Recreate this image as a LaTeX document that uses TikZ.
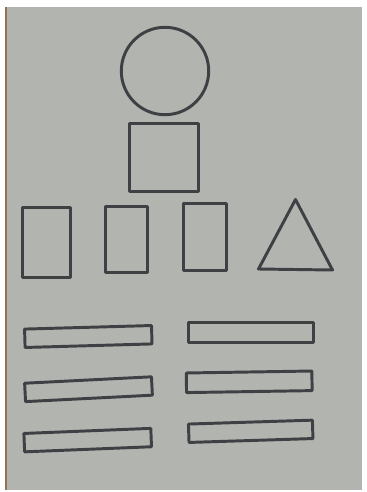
\documentclass[tikz,border=0pt]{standalone}
\usepackage{tikz}
\usetikzlibrary{positioning,calc}
\definecolor{paper}{RGB}{178,180,176}
\definecolor{ink}{RGB}{62,64,68}
\definecolor{edge}{RGB}{150,112,82}

\tikzset{
  pen/.style={draw=ink, line width=4.2pt, line join=round, inner sep=0pt},
  roundshape/.style={pen, circle},
  box/.style={pen, rectangle},
  bar/.style={pen, rectangle, minimum width=6.35cm, minimum height=0.92cm}
}

\begin{document}
\begin{tikzpicture}[x=0.05cm, y=-0.05cm]

  % sheet of paper
\useasboundingbox (0,0) rectangle (366,492);
\fill[white] (0,0) rectangle (366,492);
\fill[paper] (7,7) rectangle (362,490);
\fill[edge] (5,7) rectangle (7,490);

  % top shapes
\node[roundshape, minimum size=4.37cm] (circ) at (165,71) {};
\node[box, minimum width=3.47cm, minimum height=3.37cm] (sq) at (164,157.5) {};

  % middle row
\node[box, minimum width=2.42cm, minimum height=3.52cm] (r1) at (46.5,242.5) {};
\node[box, minimum width=2.12cm, minimum height=3.32cm] (r2) at (126.5,239.5) {};
\node[box, minimum width=2.17cm, minimum height=3.37cm] (r3) at (205,237) {};
\coordinate (tA) at (295.5,199.5);
\coordinate (tB) at (332.5,270);
\coordinate (tC) at (258.5,269);
\draw[pen] (tA) -- (tB) -- (tC) -- cycle;

  % bars, left column
\node[bar, rotate=1.6] (l1) at (88.3,336.5) {};
\node[bar, rotate=2.9] (l2) at (88.5,389.2) {};
\node[bar, rotate=2.3] (l3) at (87.7,440.1) {};

  % bars, right column
\node[bar, minimum width=6.25cm, minimum height=0.98cm] (q1) at (251,332.3) {};
\node[bar, minimum width=6.28cm, minimum height=0.98cm, rotate=0.9] (q2) at (249.2,381.8) {};
\node[bar, minimum width=6.2cm, rotate=1.8] (q3) at (250.7,431.3) {};

\end{tikzpicture}
\end{document}
